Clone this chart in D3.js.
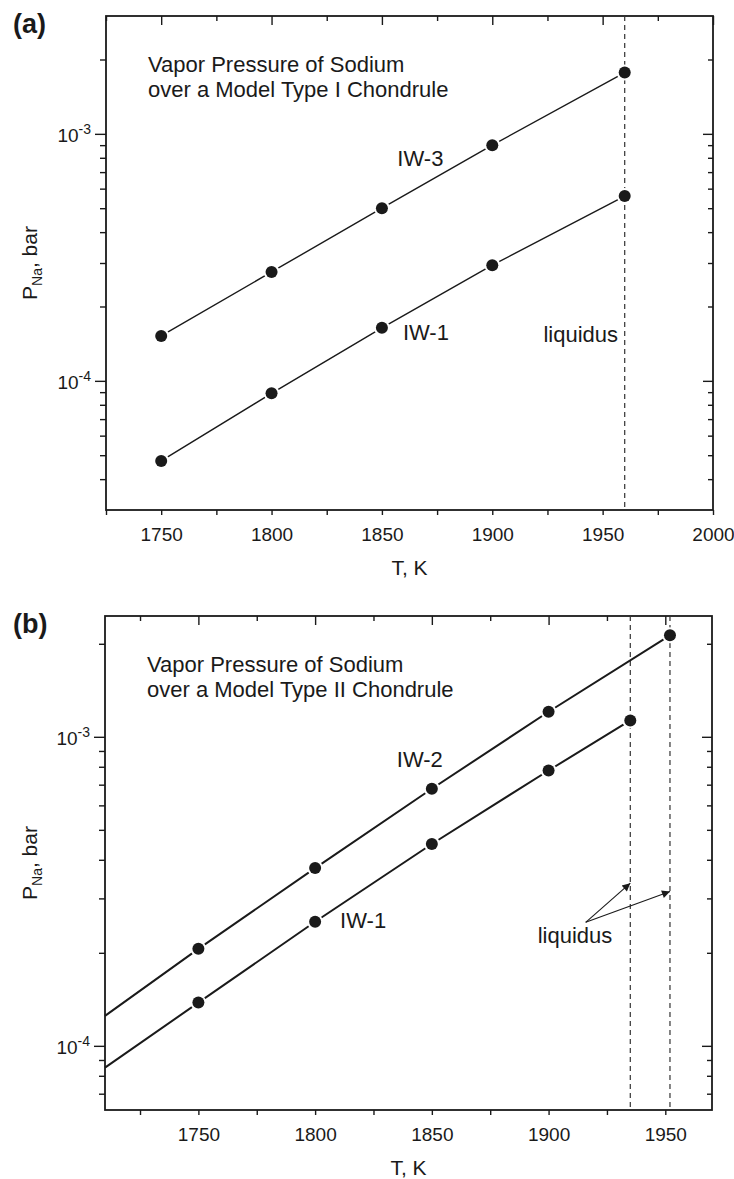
<!DOCTYPE html>
<html>
<head>
<meta charset="utf-8">
<script src="https://cdn.jsdelivr.net/npm/d3@7"></script>
<style>
body { margin: 0; background: #fff; }
svg { font-family: "Liberation Sans", Arial, sans-serif; }
</style>
</head>
<body>
<svg id="chart" width="734" height="1179"></svg>
<script>
// ---- panel (a): model Type I chondrule ----
var tempsA = [1750, 1800, 1850, 1900, 1960];
var iw3A = [1.52e-4, 2.76e-4, 5.0e-4, 9.0e-4, 1.77e-3];
var iw1A = [4.74e-5, 8.9e-5, 1.64e-4, 2.94e-4, 5.6e-4];
var liquidusA = [1960];
var xMajorA = [1750, 1800, 1850, 1900, 1950, 2000];
var xMinorA = [1725, 1775, 1825, 1875, 1925, 1975];

// ---- panel (b): model Type II chondrule ----
var tempsB2 = [1750, 1800, 1850, 1900, 1952];
var iw2B = [2.06e-4, 3.76e-4, 6.79e-4, 1.205e-3, 2.13e-3];
var iw2StartB = [1710, 1.25e-4];   // where the fit line leaves the left axis
var tempsB1 = [1750, 1800, 1850, 1900, 1935];
var iw1B = [1.38e-4, 2.52e-4, 4.5e-4, 7.78e-4, 1.13e-3];
var iw1StartB = [1710, 8.5e-5];
var liquidusB = [1935, 1952];
var xMajorB = [1750, 1800, 1850, 1900, 1950];
var xMinorB = [1725, 1775, 1825, 1875, 1925];

var yMajor = [1e-4, 1e-3];
var yMajorLabels = ["-4", "-3"];

var ink = '#1a1a1a';
var svg = d3.select('#chart');

var defs = svg.append('defs');
defs.append('marker')
    .attr('id', 'arrow')
    .attr('viewBox', '0 0 10 10')
    .attr('refX', 10).attr('refY', 5)
    .attr('markerWidth', 13).attr('markerHeight', 8)
    .attr('markerUnits', 'userSpaceOnUse')
    .attr('orient', 'auto')
    .append('path')
    .attr('d', 'M0,0L10,5L0,10Z')
    .attr('fill', ink);

function panel(cfg) {
    var g = svg.append('g');
    var x = d3.scaleLinear().domain(cfg.xDomain).range([cfg.left, cfg.right]);
    var y = d3.scaleLog().domain(cfg.yDomain).range([cfg.bottom, cfg.top]);

    var yMinor = y.ticks().filter(v => yMajor.indexOf(v) < 0 &&
        v > cfg.yDomain[0] * 1.001 && v < cfg.yDomain[1] * 0.999);

    function clean(sel) {
        sel.select('.domain').remove();
        sel.attr('font-family', null).attr('font-size', null);
        sel.selectAll('line').attr('stroke', ink).attr('stroke-width', 1.4);
    }

    // bottom
    g.append('g').attr('transform', `translate(0,${cfg.bottom})`)
        .call(d3.axisBottom(x).tickValues(cfg.xMajor).tickSize(5).tickPadding(13).tickFormat(d3.format('d')))
        .call(clean)
        .selectAll('text').attr('font-size', 19).attr('fill', ink);
    g.append('g').attr('transform', `translate(0,${cfg.bottom})`)
        .call(d3.axisBottom(x).tickValues(cfg.xMinor).tickSize(5).tickFormat(''))
        .call(clean);
    // top
    g.append('g').attr('transform', `translate(0,${cfg.top})`)
        .call(d3.axisTop(x).tickValues(cfg.xMajor).tickSize(-9).tickFormat(''))
        .call(clean);
    g.append('g').attr('transform', `translate(0,${cfg.top})`)
        .call(d3.axisTop(x).tickValues(cfg.xMinor).tickSize(-5).tickFormat(''))
        .call(clean);
    // left
    g.append('g').attr('transform', `translate(${cfg.left},0)`)
        .call(d3.axisLeft(y).tickValues(yMajor).tickSize(11).tickFormat(''))
        .call(clean);
    g.append('g').attr('transform', `translate(${cfg.left},0)`)
        .call(d3.axisLeft(y).tickValues(yMinor).tickSize(6).tickFormat(''))
        .call(clean);
    // right
    g.append('g').attr('transform', `translate(${cfg.right},0)`)
        .call(d3.axisRight(y).tickValues(yMajor).tickSize(-10).tickFormat(''))
        .call(clean);
    g.append('g').attr('transform', `translate(${cfg.right},0)`)
        .call(d3.axisRight(y).tickValues(yMinor).tickSize(-5).tickFormat(''))
        .call(clean);

    // 10^n labels
    yMajor.forEach(function (v, i) {
        var t = g.append('text')
            .attr('x', cfg.left - 15)
            .attr('y', y(v) + 8)
            .attr('text-anchor', 'end')
            .attr('fill', ink)
            .attr('font-size', 19);
        t.append('tspan').text('10');
        t.append('tspan').attr('font-size', 14).attr('dy', -8).text(yMajorLabels[i]);
    });

    // frame
    g.append('rect')
        .attr('x', cfg.left).attr('y', cfg.top)
        .attr('width', cfg.right - cfg.left).attr('height', cfg.bottom - cfg.top)
        .attr('fill', 'none').attr('stroke', ink).attr('stroke-width', 1.8);

    // axis titles
    g.append('text')
        .attr('x', (cfg.left + cfg.right) / 2)
        .attr('y', cfg.bottom + 65)
        .attr('text-anchor', 'middle')
        .attr('font-size', 21).attr('fill', ink)
        .text('T, K');
    var yl = g.append('text')
        .attr('transform', `translate(37,${(cfg.top + cfg.bottom) / 2}) rotate(-90)`)
        .attr('text-anchor', 'middle')
        .attr('font-size', 21).attr('fill', ink);
    yl.append('tspan').text('P');
    yl.append('tspan').attr('font-size', 14).attr('dy', 5).text('Na');
    yl.append('tspan').attr('dy', -5).text(', bar');

    // panel letter and title
    g.append('text')
        .attr('x', 13).attr('y', cfg.top + 17)
        .attr('font-size', 27).attr('font-weight', 'bold').attr('fill', ink)
        .text(cfg.letter);
    cfg.title.forEach(function (line, i) {
        g.append('text')
            .attr('x', cfg.left + 42)
            .attr('y', cfg.top + 56 + i * 25)
            .attr('font-size', 22).attr('fill', ink)
            .text(line);
    });

    // liquidus lines
    g.selectAll('.liq')
        .data(cfg.liquidus)
        .enter().append('line')
        .attr('x1', d => x(d)).attr('x2', d => x(d))
        .attr('y1', cfg.top).attr('y2', cfg.bottom)
        .attr('stroke', '#333').attr('stroke-width', 1.2)
        .attr('stroke-dasharray', '5,4');

    var line = d3.line().x(d => x(d[0])).y(d => y(d[1]));
    cfg.series.forEach(function (s) {
        var pts = s.temps.map((t, i) => [t, s.values[i]]);
        var path = s.start ? [s.start].concat(pts) : pts;
        g.append('path')
            .attr('d', line(path))
            .attr('fill', 'none')
            .attr('stroke', ink)
            .attr('stroke-width', cfg.lineWidth);
        g.selectAll(null).data(pts).enter().append('circle')
            .attr('cx', d => x(d[0])).attr('cy', d => y(d[1]))
            .attr('r', 8).attr('fill', '#fff');
        g.selectAll(null).data(pts).enter().append('circle')
            .attr('cx', d => x(d[0])).attr('cy', d => y(d[1]))
            .attr('r', 6).attr('fill', ink);
    });

    cfg.labels.forEach(function (l) {
        g.append('text')
            .attr('x', x(l.t)).attr('y', y(l.p))
            .attr('text-anchor', l.anchor || 'start')
            .attr('font-size', 22).attr('fill', ink)
            .text(l.text);
    });

    (cfg.arrows || []).forEach(function (a) {
        g.append('line')
            .attr('x1', x(a.from[0])).attr('y1', y(a.from[1]))
            .attr('x2', x(a.to[0])).attr('y2', y(a.to[1]))
            .attr('stroke', ink).attr('stroke-width', 1.1)
            .attr('marker-end', 'url(#arrow)');
    });
}

panel({
    letter: '(a)',
    title: ['Vapor Pressure of Sodium', 'over a Model Type I Chondrule'],
    xDomain: [1725, 2000], yDomain: [3e-5, 3e-3],
    left: 106, right: 713, top: 16, bottom: 510,
    xMajor: xMajorA, xMinor: xMinorA,
    liquidus: liquidusA,
    lineWidth: 1.4,
    series: [
        { temps: tempsA, values: iw3A },
        { temps: tempsA, values: iw1A }
    ],
    labels: [
        { text: 'IW-3', t: 1857, p: 7.4e-4 },
        { text: 'IW-1', t: 1859.5, p: 1.47e-4 },
        { text: 'liquidus', t: 1957, p: 1.43e-4, anchor: 'end' }
    ]
});

panel({
    letter: '(b)',
    title: ['Vapor Pressure of Sodium', 'over a Model Type II Chondrule'],
    xDomain: [1710, 1970], yDomain: [6.2e-5, 2.46e-3],
    left: 105, right: 712, top: 616, bottom: 1110,
    xMajor: xMajorB, xMinor: xMinorB,
    liquidus: liquidusB,
    lineWidth: 2,
    series: [
        { temps: tempsB2, values: iw2B, start: iw2StartB },
        { temps: tempsB1, values: iw1B, start: iw1StartB }
    ],
    labels: [
        { text: 'IW-2', t: 1835, p: 8.0e-4 },
        { text: 'IW-1', t: 1810.7, p: 2.41e-4 },
        { text: 'liquidus', t: 1911.3, p: 2.15e-4, anchor: 'middle' }
    ],
    arrows: [
        { from: [1915.9, 2.51e-4], to: [1935, 3.36e-4] },
        { from: [1915.9, 2.51e-4], to: [1952, 3.16e-4] }
    ]
});
</script>
</body>
</html>
